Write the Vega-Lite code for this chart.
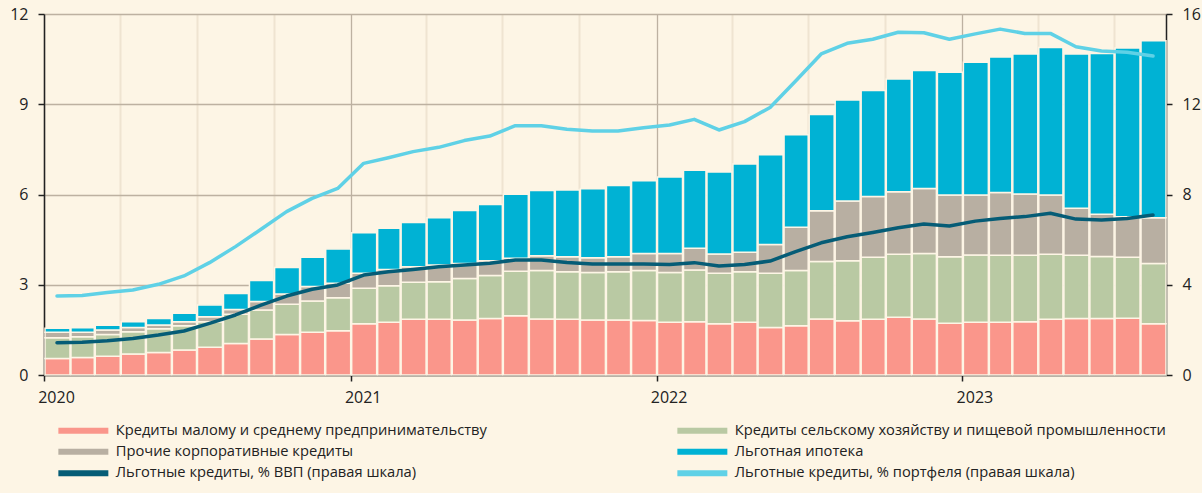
{
  "$schema": "https://vega.github.io/schema/vega-lite/v6.json",
  "width": 1122,
  "height": 361,
  "autosize": {"type": "none"},
  "padding": {"left": 44, "top": 14, "right": 36, "bottom": 118},
  "background": "#fdf5e5",
  "config": {
    "view": {"stroke": null},
    "font": "Open Sans",
    "axis": {"labelFont": "Open Sans", "labelFontSize": 16, "labelColor": "#222222", "domainColor": "#222222", "tickColor": "#222222", "domainWidth": 1.5, "tickWidth": 1.5}
  },
  "data": {"values": [
    {"t": "2020-01-15", "s1": 0.55, "s2": 0.69, "s3": 0.18, "s4": 0.13, "g1": 1.43, "g2": 3.50},
    {"t": "2020-02-15", "s1": 0.58, "s2": 0.69, "s3": 0.15, "s4": 0.15, "g1": 1.45, "g2": 3.52},
    {"t": "2020-03-15", "s1": 0.62, "s2": 0.73, "s3": 0.15, "s4": 0.15, "g1": 1.52, "g2": 3.66},
    {"t": "2020-04-15", "s1": 0.70, "s2": 0.74, "s3": 0.14, "s4": 0.19, "g1": 1.62, "g2": 3.77},
    {"t": "2020-05-15", "s1": 0.75, "s2": 0.79, "s3": 0.12, "s4": 0.22, "g1": 1.77, "g2": 4.02},
    {"t": "2020-06-15", "s1": 0.83, "s2": 0.81, "s3": 0.13, "s4": 0.28, "g1": 1.95, "g2": 4.39},
    {"t": "2020-07-15", "s1": 0.92, "s2": 0.85, "s3": 0.17, "s4": 0.39, "g1": 2.29, "g2": 4.98},
    {"t": "2020-08-15", "s1": 1.05, "s2": 0.97, "s3": 0.16, "s4": 0.53, "g1": 2.66, "g2": 5.69},
    {"t": "2020-09-15", "s1": 1.20, "s2": 0.96, "s3": 0.28, "s4": 0.70, "g1": 3.10, "g2": 6.46},
    {"t": "2020-10-15", "s1": 1.35, "s2": 1.00, "s3": 0.34, "s4": 0.88, "g1": 3.50, "g2": 7.24},
    {"t": "2020-11-15", "s1": 1.42, "s2": 1.04, "s3": 0.48, "s4": 0.97, "g1": 3.80, "g2": 7.83},
    {"t": "2020-12-15", "s1": 1.47, "s2": 1.10, "s3": 0.48, "s4": 1.14, "g1": 3.99, "g2": 8.27},
    {"t": "2021-01-15", "s1": 1.70, "s2": 1.18, "s3": 0.50, "s4": 1.35, "g1": 4.43, "g2": 9.38},
    {"t": "2021-02-15", "s1": 1.75, "s2": 1.22, "s3": 0.54, "s4": 1.37, "g1": 4.58, "g2": 9.63},
    {"t": "2021-03-15", "s1": 1.85, "s2": 1.23, "s3": 0.52, "s4": 1.47, "g1": 4.68, "g2": 9.90},
    {"t": "2021-04-15", "s1": 1.85, "s2": 1.25, "s3": 0.56, "s4": 1.57, "g1": 4.80, "g2": 10.09},
    {"t": "2021-05-15", "s1": 1.83, "s2": 1.38, "s3": 0.50, "s4": 1.76, "g1": 4.88, "g2": 10.39},
    {"t": "2021-06-15", "s1": 1.88, "s2": 1.43, "s3": 0.49, "s4": 1.87, "g1": 4.95, "g2": 10.59},
    {"t": "2021-07-15", "s1": 1.97, "s2": 1.48, "s3": 0.43, "s4": 2.13, "g1": 5.10, "g2": 11.05},
    {"t": "2021-08-15", "s1": 1.86, "s2": 1.61, "s3": 0.49, "s4": 2.17, "g1": 5.10, "g2": 11.05},
    {"t": "2021-09-15", "s1": 1.85, "s2": 1.58, "s3": 0.50, "s4": 2.22, "g1": 4.99, "g2": 10.89},
    {"t": "2021-10-15", "s1": 1.83, "s2": 1.58, "s3": 0.49, "s4": 2.29, "g1": 4.92, "g2": 10.81},
    {"t": "2021-11-15", "s1": 1.83, "s2": 1.60, "s3": 0.50, "s4": 2.37, "g1": 4.92, "g2": 10.81},
    {"t": "2021-12-15", "s1": 1.81, "s2": 1.66, "s3": 0.57, "s4": 2.42, "g1": 4.92, "g2": 10.96},
    {"t": "2022-01-15", "s1": 1.75, "s2": 1.66, "s3": 0.63, "s4": 2.54, "g1": 4.90, "g2": 11.08},
    {"t": "2022-02-15", "s1": 1.77, "s2": 1.72, "s3": 0.72, "s4": 2.60, "g1": 4.98, "g2": 11.33},
    {"t": "2022-03-15", "s1": 1.70, "s2": 1.68, "s3": 0.64, "s4": 2.73, "g1": 4.83, "g2": 10.86},
    {"t": "2022-04-15", "s1": 1.75, "s2": 1.68, "s3": 0.65, "s4": 2.93, "g1": 4.90, "g2": 11.23},
    {"t": "2022-05-15", "s1": 1.58, "s2": 1.80, "s3": 0.96, "s4": 2.98, "g1": 5.05, "g2": 11.86},
    {"t": "2022-06-15", "s1": 1.64, "s2": 1.83, "s3": 1.44, "s4": 3.08, "g1": 5.47, "g2": 13.03},
    {"t": "2022-07-15", "s1": 1.86, "s2": 1.91, "s3": 1.69, "s4": 3.20, "g1": 5.86, "g2": 14.23},
    {"t": "2022-08-15", "s1": 1.80, "s2": 2.00, "s3": 1.98, "s4": 3.36, "g1": 6.13, "g2": 14.70},
    {"t": "2022-09-15", "s1": 1.85, "s2": 2.06, "s3": 2.02, "s4": 3.53, "g1": 6.32, "g2": 14.88},
    {"t": "2022-10-15", "s1": 1.92, "s2": 2.09, "s3": 2.08, "s4": 3.75, "g1": 6.53, "g2": 15.19},
    {"t": "2022-11-15", "s1": 1.86, "s2": 2.18, "s3": 2.16, "s4": 3.92, "g1": 6.69, "g2": 15.17},
    {"t": "2022-12-15", "s1": 1.72, "s2": 2.21, "s3": 2.05, "s4": 4.08, "g1": 6.60, "g2": 14.88},
    {"t": "2023-01-15", "s1": 1.75, "s2": 2.24, "s3": 1.99, "s4": 4.42, "g1": 6.82, "g2": 15.12},
    {"t": "2023-02-15", "s1": 1.75, "s2": 2.23, "s3": 2.09, "s4": 4.50, "g1": 6.94, "g2": 15.33},
    {"t": "2023-03-15", "s1": 1.77, "s2": 2.21, "s3": 2.04, "s4": 4.65, "g1": 7.02, "g2": 15.14},
    {"t": "2023-04-15", "s1": 1.85, "s2": 2.16, "s3": 1.97, "s4": 4.91, "g1": 7.17, "g2": 15.14},
    {"t": "2023-05-15", "s1": 1.88, "s2": 2.10, "s3": 1.56, "s4": 5.13, "g1": 6.91, "g2": 14.55},
    {"t": "2023-06-15", "s1": 1.88, "s2": 2.06, "s3": 1.40, "s4": 5.35, "g1": 6.87, "g2": 14.36},
    {"t": "2023-07-15", "s1": 1.89, "s2": 2.02, "s3": 1.35, "s4": 5.61, "g1": 6.94, "g2": 14.30},
    {"t": "2023-08-15", "s1": 1.70, "s2": 2.01, "s3": 1.52, "s4": 5.88, "g1": 7.09, "g2": 14.14}
  ]},
  "layer": [
    {
      "transform": [{"fold": ["s1", "s2", "s3", "s4"], "as": ["k", "v"]}],
      "mark": {"type": "bar", "timeUnitBandSize": 0.76, "stroke": "#fdf5e5", "strokeWidth": 1.5},
      "encoding": {
        "x": {
          "field": "t", "timeUnit": "yearmonth", "type": "temporal",
          "scale": {"domain": [{"year": 2020, "month": 1, "date": 1}, {"year": 2023, "month": 9, "date": 1}]},
          "axis": {
            "title": null,
            "tickCount": {"interval": "month", "step": 3},
            "labelExpr": "month(datum.value) == 0 ? timeFormat(datum.value, '%Y') : ''",
            "labelFlush": false,
            "labelOverlap": false,
            "labelOffset": 12,
            "labelPadding": 8,
            "labelFontSize": 16,
            "tickSize": 6,
            "tickColor": {"condition": {"test": "month(datum.value) == 0", "value": "#222222"}, "value": "transparent"},
            "grid": true,
            "gridColor": {"condition": {"test": "month(datum.value) == 0", "value": "#bdb1a1"}, "value": "#efe4d1"},
            "gridWidth": {"condition": {"test": "month(datum.value) == 0", "value": 1.3}, "value": 2},
            "domain": true
          }
        },
        "y": {
          "field": "v", "type": "quantitative",
          "scale": {"domain": [0, 12], "nice": false},
          "axis": {"title": null, "orient": "left", "values": [0, 3, 6, 9, 12], "grid": true, "gridColor": "#bdb1a1", "gridWidth": 1.3, "tickSize": 6, "labelPadding": 10}
        },
        "order": {"field": "k"},
        "color": {
          "field": "k", "type": "nominal",
          "scale": {"domain": ["s1", "s3", "g1", "s2", "s4", "g2"], "range": ["#fa968b", "#b8afa2", "#055c76", "#b9c9a3", "#00b2d4", "#5fd1e6"]},
          "legend": {
            "title": null,
            "orient": "none",
            "legendX": 32,
            "legendY": 409,
            "columns": 2,
            "columnPadding": 190,
            "rowPadding": 5.5,
            "symbolType": "M-8.33,-1H8.33V1H-8.33Z",
            "symbolSize": 36,
            "symbolStrokeWidth": 0,
            "labelFont": "Open Sans",
            "labelFontSize": 14.7,
            "labelColor": "#222222",
            "labelOffset": 25,
            "labelLimit": 600,
            "labelExpr": "datum.label == 's1' ? 'Кредиты малому и среднему предпринимательству' : datum.label == 's2' ? 'Кредиты сельскому хозяйству и пищевой промышленности' : datum.label == 's3' ? 'Прочие корпоративные кредиты' : datum.label == 's4' ? 'Льготная ипотека' : datum.label == 'g1' ? 'Льготные кредиты, % ВВП (правая шкала)' : 'Льготные кредиты, % портфеля (правая шкала)'",
            "encode": {"symbols": {"update": {"fill": {"scale": "color", "field": "value"}, "stroke": {"value": "transparent"}, "strokeWidth": {"value": 0}}}}
          }
        }
      }
    },
    {
      "transform": [{"fold": ["g1", "g2"], "as": ["k", "v"]}],
      "mark": {"type": "line", "strokeWidth": 3.5, "strokeCap": "round", "strokeJoin": "round"},
      "encoding": {
        "x": {"field": "t", "timeUnit": "yearmonth", "type": "temporal", "bandPosition": 0.5, "axis": {"title": null}},
        "y": {
          "field": "v", "type": "quantitative",
          "scale": {"domain": [0, 16], "nice": false},
          "axis": {"title": null, "orient": "right", "values": [0, 4, 8, 12, 16], "grid": false, "tickSize": 6, "labelPadding": 10}
        },
        "color": {"field": "k", "type": "nominal"}
      }
    }
  ],
  "resolve": {"scale": {"y": "independent"}}
}
